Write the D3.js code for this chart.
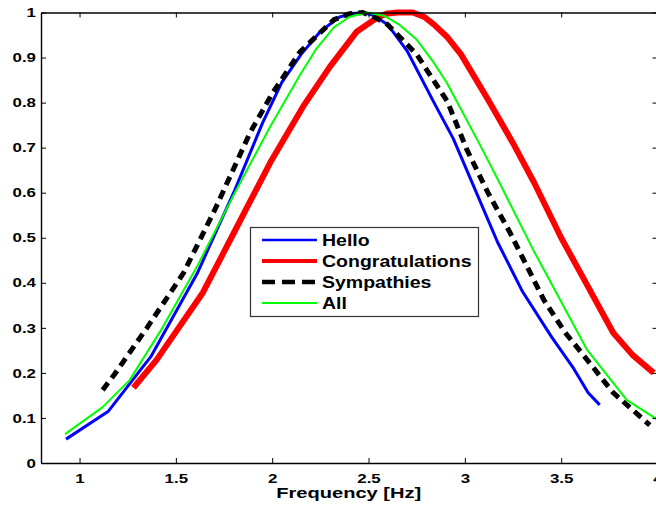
<!DOCTYPE html>
<html>
<head>
<meta charset="utf-8">
<script src="https://cdn.jsdelivr.net/npm/d3@7"></script>
<style>
	body { margin: 0; background: #fff; }
	text { font-family: "Liberation Sans", Arial, sans-serif; font-weight: bold; fill: #000; }
</style>
</head>
<body>
<svg id=spectrum width=656 height=505></svg>
<script>
const Width = 656;
const Height = 505;

// legend names in plotting order
const names = ["Hello", "Congratulations", "Sympathies", "All"];

// each series has its own frequency samples
const helloFreq = [0.93, 1.15, 1.37, 1.61, 1.80, 1.95, 2.05, 2.15, 2.25, 2.35, 2.42, 2.47, 2.53, 2.60, 2.70, 2.84, 2.94, 3.05, 3.17, 3.30, 3.45, 3.56, 3.64, 3.70];
const helloAmp = [0.053, 0.115, 0.236, 0.42, 0.60, 0.755, 0.845, 0.907, 0.958, 0.99, 0.998, 1.0, 0.993, 0.973, 0.915, 0.80, 0.72, 0.61, 0.49, 0.38, 0.28, 0.213, 0.156, 0.129];

const congratsFreq = [1.28, 1.40, 1.64, 1.80, 1.99, 2.16, 2.30, 2.44, 2.55, 2.60, 2.65, 2.73, 2.79, 2.84, 2.91, 2.98, 3.12, 3.25, 3.36, 3.50, 3.64, 3.77, 3.87, 3.98];
const congratsAmp = [0.167, 0.229, 0.378, 0.51, 0.667, 0.791, 0.88, 0.958, 0.99, 0.998, 1.0, 1.0, 0.99, 0.973, 0.945, 0.907, 0.807, 0.71, 0.622, 0.50, 0.391, 0.289, 0.24, 0.2];

const sympathyFreq = [1.12, 1.18, 1.35, 1.54, 1.70, 1.885, 2.00, 2.145, 2.32, 2.40, 2.47, 2.53, 2.60, 2.75, 2.91, 3.01, 3.12, 3.235, 3.41, 3.52, 3.635, 3.77, 3.96];
const sympathyAmp = [0.162, 0.196, 0.30, 0.422, 0.56, 0.733, 0.82, 0.913, 0.984, 0.997, 1.0, 0.99, 0.973, 0.907, 0.802, 0.696, 0.60, 0.511, 0.362, 0.29, 0.229, 0.156, 0.084];

const allFreq = [0.925, 1.12, 1.26, 1.43, 1.61, 1.80, 1.99, 2.145, 2.23, 2.32, 2.40, 2.49, 2.58, 2.66, 2.75, 2.835, 2.905, 2.975, 3.08, 3.18, 3.355, 3.50, 3.635, 3.84, 4.0];
const allAmp = [0.064, 0.124, 0.184, 0.30, 0.436, 0.595, 0.747, 0.862, 0.92, 0.967, 0.99, 1.0, 0.993, 0.973, 0.94, 0.891, 0.845, 0.789, 0.705, 0.622, 0.473, 0.358, 0.251, 0.14, 0.096];

const xTicks = [1, 1.5, 2, 2.5, 3, 3.5, 4];
const yTicks = [0, 0.1, 0.2, 0.3, 0.4, 0.5, 0.6, 0.7, 0.8, 0.9, 1];

const chart = d3.select("#spectrum").attr("viewBox", `0 0 ${Width} ${Height}`);

// plot box, the right edge runs just past the window
const boxLeft = 41, boxRight = 657.5, boxTop = 12.5, boxBottom = 463;
const sx = 1.3;  // the lettering in the picture is stretched sideways

const freq = d3.scaleLinear().domain([0.8, 4]).range([boxLeft, boxRight]);
const amp = d3.scaleLinear().domain([0, 1]).range([boxBottom, boxTop]);

// series built from the arrays above
const series = [
	{ name: names[0], f: helloFreq, a: helloAmp, color: "#0000ff", width: 3, dash: null, legWidth: 2.7 },
	{ name: names[1], f: congratsFreq, a: congratsAmp, color: "#ff0000", width: 6, dash: null, legWidth: 4 },
	{ name: names[2], f: sympathyFreq, a: sympathyAmp, color: "#000000", width: 5, dash: "9,6", legWidth: 4.5 },
	{ name: names[3], f: allFreq, a: allAmp, color: "#00ff00", width: 2, dash: null, legWidth: 2 }
];

const line = d3.line().x(p => freq(p[0])).y(p => amp(p[1]));

chart.append("g").attr("class", "lines").selectAll("path").data(series).enter()
	.append("path")
	.attr("d", s => line(d3.zip(s.f, s.a)))
	.attr("fill", "none")
	.attr("stroke", s => s.color)
	.attr("stroke-width", s => s.width)
	.attr("stroke-dasharray", s => s.dash)
	.attr("stroke-linejoin", "round");

// matlab style box with ticks pointing inwards on all four sides
const axisStyle = g => {
	g.selectAll("path.domain").attr("stroke", "#000").attr("stroke-width", 1.4);
	g.selectAll(".tick line").attr("stroke", "#000").attr("stroke-width", 1);
};

const xaxis = chart.append("g").attr("transform", `translate(0,${boxBottom})`)
	.call(d3.axisBottom(freq).tickValues(xTicks).tickFormat(d3.format("")).tickSizeInner(-5).tickSizeOuter(0).tickPadding(11))
	.call(axisStyle);
xaxis.selectAll(".tick text").attr("font-size", 13).attr("transform", `scale(${sx},1)`);

chart.append("g").attr("transform", `translate(0,${boxTop})`)
	.call(d3.axisTop(freq).tickValues(xTicks).tickSizeInner(-5).tickSizeOuter(0))
	.call(axisStyle)
	.selectAll(".tick text").remove();

const yaxis = chart.append("g").attr("transform", `translate(${boxLeft},0)`)
	.call(d3.axisLeft(amp).tickValues(yTicks).tickFormat(d3.format("")).tickSizeInner(-5).tickSizeOuter(0))
	.call(axisStyle);
yaxis.selectAll(".tick text").attr("font-size", 13).attr("x", -5 / sx).attr("transform", `scale(${sx},1)`);

chart.append("g").attr("transform", `translate(${boxRight},0)`)
	.call(d3.axisRight(amp).tickValues(yTicks).tickSizeInner(-5).tickSizeOuter(0))
	.call(axisStyle)
	.selectAll(".tick text").remove();

chart.selectAll("g").attr("font-family", null);

// x axis label
chart.append("text")
	.attr("transform", `translate(${(boxLeft + boxRight) / 2 - 0.5},498) scale(1.34,1)`)
	.attr("text-anchor", "middle").attr("font-size", 15)
	.text("Frequency [Hz]");

// legend box in the middle of the plot
const legend = chart.append("g").attr("class", "legend").attr("transform", "translate(250,227)");
legend.append("rect").attr("x", 0.5).attr("y", 0.5).attr("width", 228).attr("height", 89)
	.attr("fill", "#fff").attr("stroke", "#333").attr("stroke-width", 1.2);
const legrows = legend.selectAll("g.legrow").data(series).enter()
	.append("g").attr("class", "legrow").attr("transform", (s, i) => `translate(0,${13 + 21 * i})`);
legrows.append("line").attr("x1", 12).attr("x2", 67)
	.attr("stroke", s => s.color).attr("stroke-width", s => s.legWidth)
	.attr("stroke-dasharray", s => s.dash ? "13,7" : null);
legrows.append("text").attr("transform", "translate(72,0) scale(1.22,1)")
	.attr("dy", "0.36em").attr("font-size", 16)
	.text(s => s.name);
</script>
</body>
</html>
